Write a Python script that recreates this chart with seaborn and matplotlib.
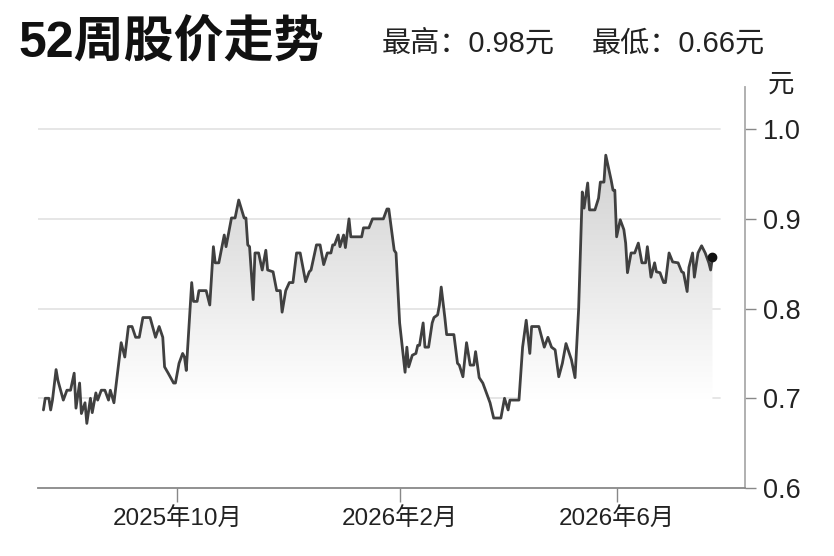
import matplotlib
matplotlib.use("Agg")
import matplotlib.dates as mdates
import matplotlib.pyplot as plt
import numpy as np
import pandas as pd
import seaborn as sns

dates = [
    "2025-07-19", "2025-07-20", "2025-07-22", "2025-07-23", "2025-07-24", "2025-07-26", "2025-07-27", "2025-07-30",
    "2025-08-01", "2025-08-03", "2025-08-05", "2025-08-06", "2025-08-08", "2025-08-09", "2025-08-11", "2025-08-12",
    "2025-08-14", "2025-08-15", "2025-08-17", "2025-08-18", "2025-08-20", "2025-08-22", "2025-08-24", "2025-08-25",
    "2025-08-27", "2025-08-29", "2025-08-31",
    "2025-09-02", "2025-09-04", "2025-09-06", "2025-09-08", "2025-09-10", "2025-09-12", "2025-09-16", "2025-09-19",
    "2025-09-21", "2025-09-23", "2025-09-24", "2025-09-26", "2025-09-29", "2025-09-30",
    "2025-10-02", "2025-10-04", "2025-10-05", "2025-10-06", "2025-10-09", "2025-10-10", "2025-10-12", "2025-10-13",
    "2025-10-17", "2025-10-19", "2025-10-21", "2025-10-22", "2025-10-24", "2025-10-27", "2025-10-28", "2025-10-31",
    "2025-11-02", "2025-11-04", "2025-11-07", "2025-11-08", "2025-11-09", "2025-11-10", "2025-11-12", "2025-11-13",
    "2025-11-15", "2025-11-17", "2025-11-19", "2025-11-20", "2025-11-23", "2025-11-25", "2025-11-27", "2025-11-28",
    "2025-11-30",
    "2025-12-02", "2025-12-04", "2025-12-06", "2025-12-08", "2025-12-11", "2025-12-13", "2025-12-14", "2025-12-17",
    "2025-12-19", "2025-12-21", "2025-12-23", "2025-12-25", "2025-12-26", "2025-12-27", "2025-12-29", "2025-12-30",
    "2026-01-01", "2026-01-02", "2026-01-04", "2026-01-05", "2026-01-11", "2026-01-12", "2026-01-15", "2026-01-17",
    "2026-01-23", "2026-01-25", "2026-01-26", "2026-01-28", "2026-01-29", "2026-01-30",
    "2026-02-01", "2026-02-04", "2026-02-05", "2026-02-06", "2026-02-08", "2026-02-10", "2026-02-11", "2026-02-12",
    "2026-02-14", "2026-02-15", "2026-02-17", "2026-02-19", "2026-02-20", "2026-02-22", "2026-02-23", "2026-02-24",
    "2026-02-26", "2026-02-27",
    "2026-03-03", "2026-03-05", "2026-03-06", "2026-03-08", "2026-03-10", "2026-03-12", "2026-03-14", "2026-03-15",
    "2026-03-17", "2026-03-19", "2026-03-23", "2026-03-25", "2026-03-29", "2026-03-31",
    "2026-04-02", "2026-04-03", "2026-04-08", "2026-04-10", "2026-04-12", "2026-04-14", "2026-04-15", "2026-04-19",
    "2026-04-22", "2026-04-24", "2026-04-26", "2026-04-28", "2026-04-30",
    "2026-05-02", "2026-05-04", "2026-05-07", "2026-05-09", "2026-05-11", "2026-05-13", "2026-05-14", "2026-05-16",
    "2026-05-17", "2026-05-20", "2026-05-22", "2026-05-23", "2026-05-25", "2026-05-26", "2026-05-29", "2026-05-30",
    "2026-05-31",
    "2026-06-01", "2026-06-03", "2026-06-05", "2026-06-06", "2026-06-07", "2026-06-09", "2026-06-11", "2026-06-13",
    "2026-06-15", "2026-06-17", "2026-06-18", "2026-06-20", "2026-06-22", "2026-06-23", "2026-06-25", "2026-06-27",
    "2026-06-28", "2026-06-30",
    "2026-07-02", "2026-07-05", "2026-07-07", "2026-07-08", "2026-07-10", "2026-07-11", "2026-07-13", "2026-07-14",
    "2026-07-16", "2026-07-18", "2026-07-20", "2026-07-22", "2026-07-23", "2026-07-24",
]

prices = [
    0.687, 0.700, 0.700, 0.687, 0.698, 0.732, 0.720, 0.698,
    0.709, 0.709, 0.728, 0.689, 0.717, 0.683, 0.695, 0.672,
    0.700, 0.684, 0.706, 0.698, 0.709, 0.709, 0.698, 0.709,
    0.695, 0.728, 0.762,
    0.746, 0.780, 0.780, 0.768, 0.768, 0.790, 0.790, 0.768,
    0.780, 0.768, 0.735, 0.728, 0.717, 0.717,
    0.739, 0.750, 0.746, 0.731, 0.829, 0.808, 0.808, 0.820,
    0.820, 0.804, 0.869, 0.851, 0.851, 0.882, 0.869, 0.901,
    0.901, 0.921, 0.901, 0.901, 0.871, 0.869, 0.810, 0.862,
    0.862, 0.843, 0.865, 0.843, 0.841, 0.820, 0.820, 0.796,
    0.820,
    0.829, 0.829, 0.862, 0.862, 0.830, 0.841, 0.843, 0.871,
    0.871, 0.849, 0.862, 0.862, 0.871, 0.871, 0.882, 0.869,
    0.882, 0.868, 0.900, 0.880, 0.880, 0.890, 0.890, 0.900,
    0.900, 0.911, 0.911, 0.880, 0.865, 0.862,
    0.784, 0.729, 0.757, 0.735, 0.748, 0.750, 0.759, 0.759,
    0.784, 0.757, 0.757, 0.784, 0.790, 0.793, 0.804, 0.824,
    0.790, 0.771,
    0.771, 0.739, 0.737, 0.724, 0.762, 0.737, 0.737, 0.752,
    0.723, 0.717, 0.695, 0.678, 0.678, 0.700,
    0.687, 0.698, 0.698, 0.757, 0.787, 0.750, 0.780, 0.780,
    0.757, 0.768, 0.757, 0.754, 0.724,
    0.739, 0.761, 0.743, 0.723, 0.800, 0.930, 0.912, 0.940,
    0.910, 0.910, 0.923, 0.941, 0.941, 0.971, 0.943, 0.932,
    0.932,
    0.880, 0.899, 0.888, 0.873, 0.840, 0.862, 0.862, 0.873,
    0.851, 0.851, 0.869, 0.835, 0.851, 0.841, 0.840, 0.829,
    0.829, 0.862,
    0.852, 0.851, 0.841, 0.840, 0.819, 0.846, 0.862, 0.835,
    0.862, 0.870, 0.862, 0.851, 0.843, 0.857,
]

y_ticks = [0.6, 0.7, 0.8, 0.9, 1.0]
x_ticks = ["2025-10-01", "2026-02-01", "2026-06-01"]
x_labels = ["2025年10月", "2026年2月", "2026年6月"]
title = "52周股价走势"
high_text = "最高：0.98元"
low_text = "最低：0.66元"
unit = "元"

sns.set_theme(style="white")
plt.rcParams["font.family"] = ["Liberation Sans", "Noto Sans CJK SC"]

df = pd.DataFrame({"date": pd.to_datetime(dates), "price": prices})

fig = plt.figure(figsize=(8.34, 5.56), dpi=100)
ax = fig.add_axes([38 / 834, 68 / 556, 707 / 834, 401 / 556])

x0, x1 = pd.Timestamp("2025-07-16"), pd.Timestamp("2026-08-11")
y0, y1 = 0.6, 1.047

# grey gradient under the line
poly = ax.fill_between(df["date"], df["price"], y0, facecolor="none", edgecolor="none")
levels = np.linspace(y1, y0, 300)
shade = 1 - 0.2 * np.clip((levels - 0.7) / 0.3, 0, 1)
img = np.stack([shade, shade, shade], axis=-1)[:, None, :]
im = ax.imshow(img, extent=[mdates.date2num(x0), mdates.date2num(x1), y0, y1],
               aspect="auto", origin="upper", zorder=1)
im.set_clip_path(poly.get_paths()[0], transform=ax.transData)

for v in y_ticks[1:]:
    ax.axhline(v, xmin=0, xmax=682 / 707, color="#e4e4e4", lw=1.3, zorder=0)

sns.lineplot(data=df, x="date", y="price", ax=ax, color="#404040", linewidth=2.0, zorder=3)
ax.plot(df["date"].iloc[-1], df["price"].iloc[-1], "o", color="#111111", ms=6, zorder=4)

ax.set_xlim(x0, x1)
ax.set_ylim(y0, y1)
ax.set_xlabel("")
ax.set_ylabel("")

for side in ["left", "top"]:
    ax.spines[side].set_visible(False)
ax.spines["right"].set_color("#aaaaaa")
ax.spines["right"].set_linewidth(1.3)
ax.spines["bottom"].set_color("#888888")
ax.spines["bottom"].set_linewidth(1.3)

ax.yaxis.tick_right()
ax.set_yticks(y_ticks)
ax.set_yticklabels([f"{v:.1f}" for v in y_ticks])
ax.tick_params(axis="y", right=True, left=False, length=8, width=1, color="#888888",
               pad=5, labelsize=19.5, labelcolor="#222222")
ax.set_xticks(pd.to_datetime(x_ticks))
ax.set_xticklabels(x_labels)
ax.tick_params(axis="x", bottom=True, length=10, width=1, color="#888888",
               pad=4, labelsize=17.5, labelcolor="#222222")

fig.text(18 / 834, 1 - 43 / 556, title, fontsize=36, fontweight="bold",
         ha="left", va="center", color="#111111")
fig.text(382 / 834, 1 - 44 / 556, high_text, fontsize=21, ha="left", va="center", color="#222222")
fig.text(592 / 834, 1 - 44 / 556, low_text, fontsize=21, ha="left", va="center", color="#222222")
fig.text(781 / 834, 1 - 85 / 556, unit, fontsize=19, ha="center", va="center", color="#222222")

fig.savefig("out.png", dpi=100)
